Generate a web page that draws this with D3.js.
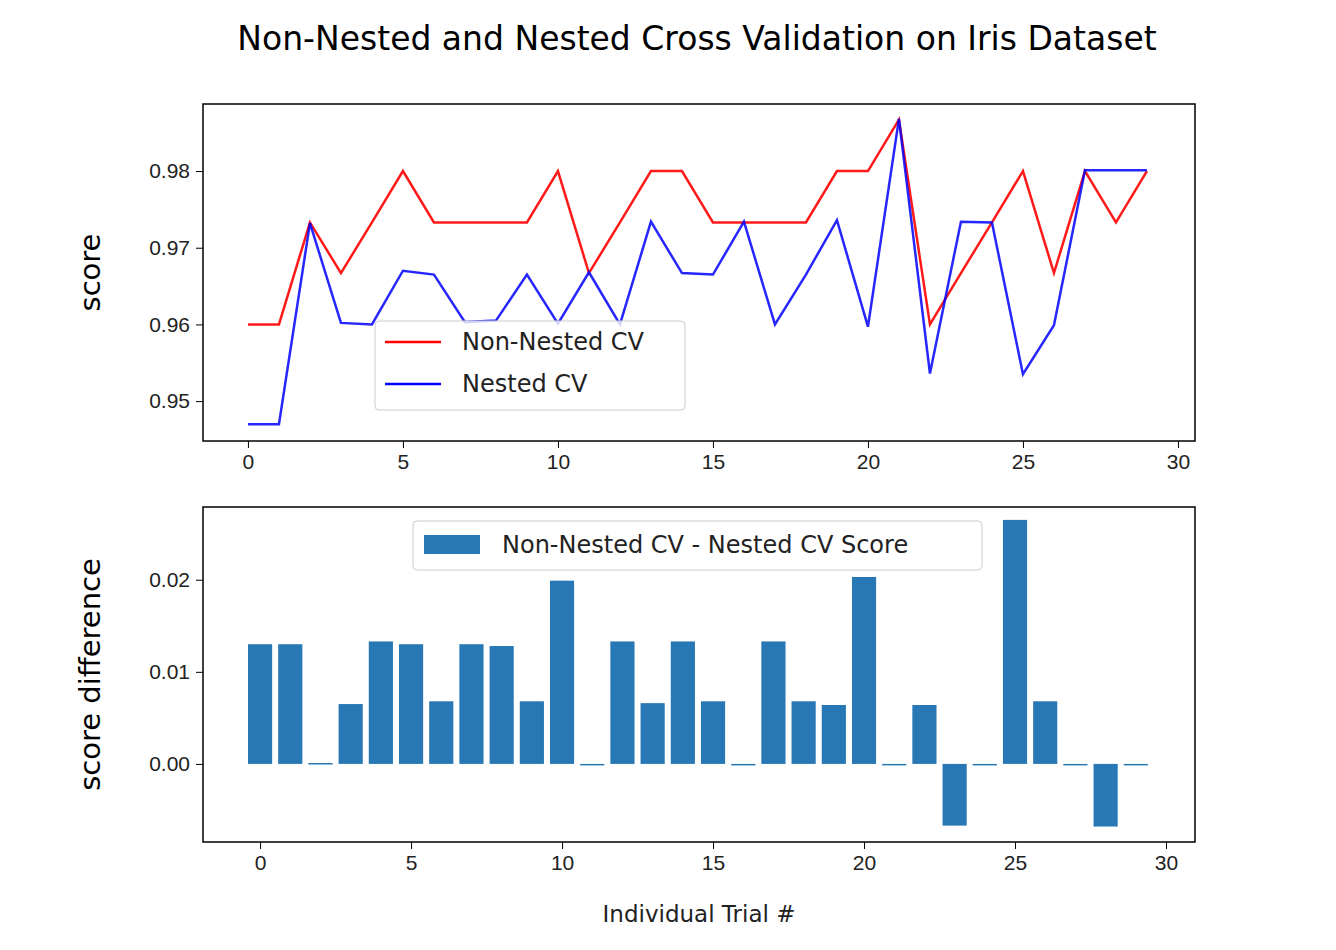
<!DOCTYPE html>
<html><head><meta charset="utf-8">
<script src="https://cdn.jsdelivr.net/npm/d3@7"></script>
<style>body{margin:0;background:#fff}svg{font-family:"DejaVu Sans",sans-serif}</style>
</head><body><svg id="chart" width="1336" height="950"></svg>
<script>
// scores per trial
const trials = d3.range(30)
const nonNested = [0.96,0.96,0.9733,0.9667,0.9733,0.98,0.9733,0.9733,0.9733,0.9733,0.98,0.9667,0.9733,0.98,0.98,0.9733,0.9733,0.9733,0.9733,0.98,0.98,0.9867,0.96,0.9667,0.9733,0.98,0.9667,0.98,0.9733,0.98]
const nested = [0.947,0.947,0.9732,0.9602,0.96,0.967,0.9665,0.9603,0.9605,0.9665,0.9601,0.9668,0.96,0.9734,0.9667,0.9665,0.9734,0.96,0.9665,0.9736,0.9597,0.9868,0.9536,0.9734,0.9733,0.9535,0.9599,0.9801,0.9801,0.9801]
const xTicks = [0,5,10,15,20,25,30]
const topYTicks = [0.95,0.96,0.97,0.98]
const botYTicks = [0.00,0.01,0.02]
const diffs = nonNested.map((v, i) => v - nested[i])

const svg = d3.select("#chart")
svg.append("text").attr("x", 697).attr("y", 50).attr("text-anchor", "middle")
    .attr("font-size", 33).text("Non-Nested and Nested Cross Validation on Iris Dataset")

function frame(g, x, y, yfmt, yTicks, ylabel, labelX) {
    let r = x.range(), t = y.range()
    g.append("g").attr("transform", `translate(0,${t[0]})`)
        .call(d3.axisBottom(x).tickValues(xTicks).tickSize(7).tickPadding(6))
    g.append("g").attr("transform", `translate(${r[0]},0)`)
        .call(d3.axisLeft(y).tickValues(yTicks).tickFormat(yfmt).tickSize(7).tickPadding(6))
    g.selectAll(".tick text").attr("font-size", 21).attr("fill", "#222")
    g.selectAll(".domain").remove()
    g.append("rect").attr("x", r[0]).attr("y", t[1]).attr("width", r[1] - r[0]).attr("height", t[0] - t[1])
        .attr("fill", "none").attr("stroke", "#000").attr("stroke-width", 1.5)
    g.append("text").attr("transform", `translate(${labelX},${(t[0] + t[1]) / 2}) rotate(-90)`)
        .attr("text-anchor", "middle").attr("font-size", 29).text(ylabel)
}

// top plot
const x1 = d3.scaleLinear().domain([-1.45, 30.55]).range([203, 1195])
const y1 = d3.scaleLinear().domain([0.9448, 0.98874]).range([441, 104])
const upper = svg.append("g")
const line = d3.line().x((d, i) => x1(i)).y(d => y1(d))
upper.append("path").datum(nonNested).attr("d", line).attr("fill", "none").attr("stroke", "#ff0000").attr("stroke-opacity", 0.9).attr("stroke-width", 2.5)
upper.append("path").datum(nested).attr("d", line).attr("fill", "none").attr("stroke", "#0000ff").attr("stroke-opacity", 0.85).attr("stroke-width", 2.5)
frame(upper, x1, y1, d3.format(".2f"), topYTicks, "score", 100)

const lg = upper.append("g").attr("transform", "translate(375,321)")
lg.append("rect").attr("width", 310).attr("height", 89).attr("rx", 4).attr("fill", "#fff").attr("fill-opacity", 0.8).attr("stroke", "#ccc")
;[["Non-Nested CV", "#ff0000"], ["Nested CV", "#0000ff"]].forEach((d, i) => {
    lg.append("line").attr("x1", 10).attr("x2", 66).attr("y1", 21 + i * 42).attr("y2", 21 + i * 42).attr("stroke", d[1]).attr("stroke-width", 2.5)
    lg.append("text").attr("x", 87).attr("y", 29 + i * 42).attr("font-size", 24).attr("fill", "#222").text(d[0])
})

// bottom plot
const x2 = d3.scaleLinear().domain([-1.89, 30.96]).range([203, 1195])
const y2 = d3.scaleLinear().domain([-0.00848, 0.0279]).range([842, 507])
const lower = svg.append("g")
lower.selectAll("rect.bar").data(diffs).join("rect").attr("class", "bar")
    .attr("x", (d, i) => x2(i - 0.4)).attr("width", x2(0.8) - x2(0))
    .attr("y", d => y2(Math.max(0, d))).attr("height", d => Math.max(1.5, Math.abs(y2(d) - y2(0))))
    .attr("fill", "#2878b5")
frame(lower, x2, y2, d3.format(".2f"), botYTicks, "score difference", 100)
svg.append("text").attr("x", 699).attr("y", 922).attr("text-anchor", "middle").attr("font-size", 23).attr("fill", "#222").text("Individual Trial #")

const lg2 = lower.append("g").attr("transform", "translate(413,521)")
lg2.append("rect").attr("width", 569).attr("height", 49).attr("rx", 4).attr("fill", "#fff").attr("fill-opacity", 0.8).attr("stroke", "#ccc")
lg2.append("rect").attr("x", 11).attr("y", 14).attr("width", 56).attr("height", 19).attr("fill", "#2878b5")
lg2.append("text").attr("x", 89).attr("y", 32).attr("font-size", 24).attr("fill", "#222").text("Non-Nested CV - Nested CV Score")
</script></body></html>
